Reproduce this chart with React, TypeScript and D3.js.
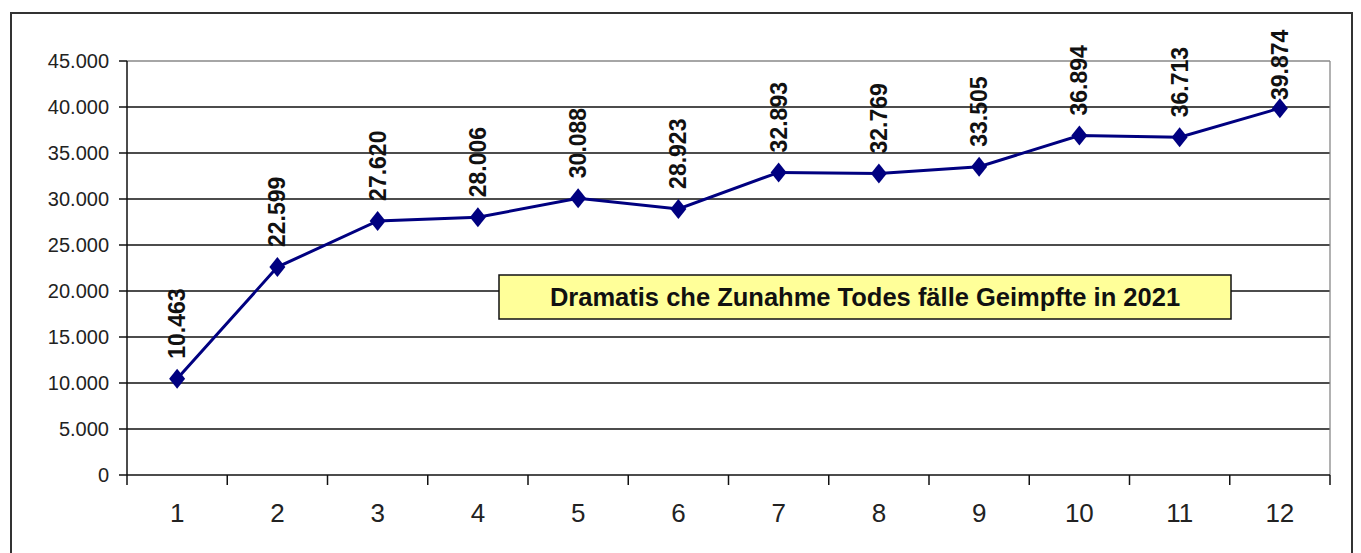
import React from "react";
import * as d3 from "d3";

const months = ["1", "2", "3", "4", "5", "6", "7", "8", "9", "10", "11", "12"];
const deaths = [10463, 22599, 27620, 28006, 30088, 28923, 32893, 32769, 33505, 36894, 36713, 39874];
const yTicks = [0, 5000, 10000, 15000, 20000, 25000, 30000, 35000, 40000, 45000];
const annotation = "Dramatis che Zunahme Todes fälle Geimpfte in 2021";

const W = 1361;
const H = 553;
const plot = { left: 127, right: 1330, top: 61, bottom: 475 };

const fmt = (v: number) => d3.format(",")(v).replace(/,/g, ".");

export default function App() {
  const x = d3.scaleBand<string>().domain(months).range([plot.left, plot.right]).paddingInner(0).paddingOuter(0);
  const y = d3.scaleLinear().domain([0, 45000]).range([plot.bottom, plot.top]);
  const cx = (m: string) => (x(m) as number) + x.bandwidth() / 2;

  const line = d3
    .line<number>()
    .x((_, i) => cx(months[i]))
    .y((d) => y(d));

  const boundaries = months.map((m) => x(m) as number).concat([plot.right]);
  const font = "Arial, 'Liberation Sans', sans-serif";

  const ann = { x0: 499, x1: 1231, y0: 275, y1: 319 };

  return (
    <svg width={W} height={H} style={{ position: "absolute", left: 0, top: 0, background: "#fff" }}>
      <rect x={11} y={13} width={1341} height={560} fill="#fff" stroke="#333" strokeWidth={2} />
      {/* gridlines */}
      {yTicks.slice(1, -1).map((t) => (
        <line key={t} x1={plot.left} x2={plot.right} y1={y(t)} y2={y(t)} stroke="#111" strokeWidth={1.3} />
      ))}
      {/* plot border */}
      <line x1={plot.left} x2={plot.right} y1={plot.top} y2={plot.top} stroke="#888" strokeWidth={1.3} />
      <line x1={plot.right} x2={plot.right} y1={plot.top} y2={plot.bottom} stroke="#888" strokeWidth={1.3} />
      {/* axes */}
      <line x1={plot.left} x2={plot.left} y1={plot.top} y2={plot.bottom} stroke="#111" strokeWidth={1.5} />
      <line x1={plot.left} x2={plot.right} y1={plot.bottom} y2={plot.bottom} stroke="#111" strokeWidth={1.5} />
      {yTicks.map((t) => (
        <g key={t}>
          <line x1={plot.left - 8} x2={plot.left} y1={y(t)} y2={y(t)} stroke="#111" strokeWidth={1.5} />
          <text x={109} y={y(t)} dy="0.35em" textAnchor="end" fontFamily={font} fontSize={20} fill="#222">
            {fmt(t)}
          </text>
        </g>
      ))}
      {boundaries.map((b, i) => (
        <line key={i} x1={b} x2={b} y1={plot.bottom} y2={plot.bottom + 10} stroke="#111" strokeWidth={1.5} />
      ))}
      {months.map((m) => (
        <text key={m} x={cx(m)} y={513} dy="0.35em" textAnchor="middle" fontFamily={font} fontSize={26} fill="#222">
          {m}
        </text>
      ))}
      {/* annotation box */}
      <rect x={ann.x0} y={ann.y0} width={ann.x1 - ann.x0} height={ann.y1 - ann.y0} fill="#ffff99" stroke="#111" strokeWidth={1.5} />
      <text
        x={(ann.x0 + ann.x1) / 2}
        y={(ann.y0 + ann.y1) / 2}
        dy="0.35em"
        textAnchor="middle"
        fontFamily={font}
        fontWeight="bold"
        fontSize={25.5}
        fill="#111"
      >
        {annotation}
      </text>
      {/* series */}
      <path d={line(deaths) || ""} fill="none" stroke="#000080" strokeWidth={3} />
      {deaths.map((d, i) => {
        const px = cx(months[i]);
        const py = y(d);
        return (
          <path
            key={i}
            d={`M${px},${py - 10}L${px + 8},${py}L${px},${py + 10}L${px - 8},${py}Z`}
            fill="#000080"
          />
        );
      })}
      {deaths.map((d, i) => {
        const px = cx(months[i]);
        const py = Math.min(y(d) - 20, Math.max(y(d) - 20, 100));
        return (
          <text
            key={i}
            transform={`translate(${px},${Math.max(py, 100)}) rotate(-90)`}
            dy="0.35em"
            textAnchor="start"
            fontFamily={font}
            fontWeight="bold"
            fontSize={23}
            fill="#111"
          >
            {fmt(d)}
          </text>
        );
      })}
    </svg>
  );
}
